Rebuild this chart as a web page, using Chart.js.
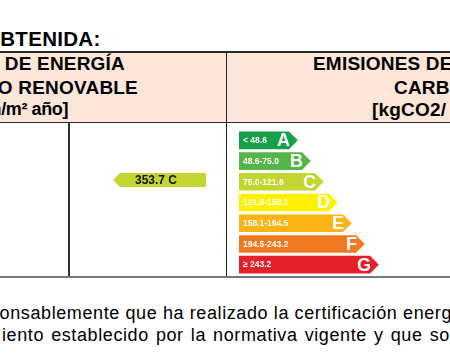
<!DOCTYPE html>
<html>
<head>
<meta charset="utf-8">
<script src="https://cdn.jsdelivr.net/npm/chart.js@4/dist/chart.umd.min.js"></script>
<style>
  html, body { margin:0; padding:0; width:450px; height:364px; overflow:hidden; background:#fff; }
  body { position:relative; font-family:"Liberation Sans", Arial, sans-serif; color:#000; }
  .abs { position:absolute; white-space:nowrap; line-height:1; }
  .h { font-weight:bold; font-size:19px; letter-spacing:0.2px; }
  .txt { font-size:18px; letter-spacing:0.6px; }
</style>
</head>
<body>
<div class="abs" style="left:-16px; top:29px; font-size:20.5px; font-weight:bold; letter-spacing:0.3px;">OBTENIDA:</div>

<div class="abs" style="left:0; top:51px; width:450px; height:71px; background:#fce6da;"></div>
<div class="abs" style="left:0; top:51px; width:450px; height:1.5px; background:#2a2a2a;"></div>
<div class="abs" style="left:0; top:121.5px; width:450px; height:1px; background:#2a2a2a;"></div>
<div class="abs" style="left:226px; top:51px; width:1px; height:226px; background:#222;"></div>
<div class="abs" style="left:68px; top:122px; width:1.5px; height:155px; background:#333;"></div>
<div class="abs" style="left:0; top:276px; width:450px; height:2px; background:#777;"></div>

<div class="abs h" style="right:325px; top:54px;">CONSUMO DE ENERGÍA</div>
<div class="abs h" style="right:312px; top:78px;">PRIMARIA NO RENOVABLE</div>
<div class="abs h" style="right:382px; top:100px; font-size:18px; letter-spacing:-0.4px;">[kWh/m² año]</div>

<div class="abs h" style="left:313px; top:54px;">EMISIONES DE DIÓXIDO DE</div>
<div class="abs h" style="left:394px; top:78px;">CARBONO</div>
<div class="abs h" style="left:372px; top:100px;">[kgCO2/ m² año]</div>

<div class="abs" style="left:239px; top:130px; width:160px; height:145px;"><canvas id="label" width="160" height="145"></canvas></div>
<div class="abs" style="left:112px; top:173px; width:94px; height:14px;"><canvas id="rating" width="94" height="14"></canvas></div>

<div class="abs txt" style="left:-11px; top:304px;">ponsablemente que ha realizado la certificación energética</div>
<div class="abs txt" style="left:2px; top:326px; word-spacing:1.5px;">iento establecido por la normativa vigente y que son</div>

<script>
// ---- data ----
const classes = ['A', 'B', 'C', 'D', 'E', 'F', 'G'];
const ranges = ['< 48.6', '48.6-75.0', '75.0-121.6', '121.6-158.1', '158.1-194.5', '194.5-243.2', '\u2265 243.2'];
const barLengths = [50, 63, 76, 90, 104, 117, 131];
const classColors = ['#17a04a', '#55b548', '#c2d62f', '#fff200', '#fbb415', '#f07a21', '#e4202b'];
const ratingValue = 353.7;
const ratingClass = 'C';
const ratingLength = [86];

const arrowTips = {
  id: 'arrowTips',
  afterDatasetsDraw(chart, args, opts) {
    const ctx = chart.ctx;
    const meta = chart.getDatasetMeta(0);
    meta.data.forEach((bar, i) => {
      const h = bar.height, x = bar.x, y = bar.y, dir = opts.dir || 1;
      ctx.save();
      ctx.fillStyle = chart.data.datasets[0].backgroundColor[i];
      ctx.beginPath();
      ctx.moveTo(x, y - h / 2);
      ctx.lineTo(x + dir * h / 2, y);
      ctx.lineTo(x, y + h / 2);
      ctx.closePath();
      ctx.fill();
      ctx.restore();
      if (opts.draw) opts.draw(ctx, bar, i);
    });
  }
};

new Chart(document.getElementById('label'), {
  type: 'bar',
  data: {
    labels: classes,
    datasets: [{ data: barLengths, backgroundColor: classColors, borderWidth: 0,
      barPercentage: 0.85, categoryPercentage: 1 }]
  },
  options: {
    indexAxis: 'y', responsive: false, animation: false, devicePixelRatio: 1,
    layout: { padding: 0 },
    scales: { x: { display: false, min: 0, max: 160 }, y: { display: false } },
    plugins: {
      legend: { display: false }, tooltip: { enabled: false },
      arrowTips: {
        dir: 1,
        draw(ctx, bar, i) {
          ctx.save();
          ctx.fillStyle = '#fff';
          ctx.textBaseline = 'middle';
          ctx.font = 'bold 18px "Liberation Sans", Arial, sans-serif';
          ctx.textAlign = 'right';
          ctx.fillText(classes[i], bar.x + 1, bar.y + 1);
          ctx.font = 'bold 8.5px "Liberation Sans", Arial, sans-serif';
          ctx.textAlign = 'left';
          ctx.fillText(ranges[i], bar.base + 4, bar.y + 0.5);
          ctx.restore();
        }
      }
    }
  },
  plugins: [arrowTips]
});

new Chart(document.getElementById('rating'), {
  type: 'bar',
  data: {
    labels: [ratingClass],
    datasets: [{ data: ratingLength, backgroundColor: [classColors[classes.indexOf(ratingClass)]], borderWidth: 0,
      barPercentage: 1, categoryPercentage: 1 }]
  },
  options: {
    indexAxis: 'y', responsive: false, animation: false, devicePixelRatio: 1,
    layout: { padding: 0 },
    scales: { x: { display: false, min: 0, max: 94, reverse: true }, y: { display: false } },
    plugins: {
      legend: { display: false }, tooltip: { enabled: false },
      arrowTips: {
        dir: -1,
        draw(ctx, bar) {
          ctx.save();
          ctx.fillStyle = '#111';
          ctx.textBaseline = 'middle';
          ctx.textAlign = 'center';
          ctx.font = 'bold 12px "Liberation Sans", Arial, sans-serif';
          ctx.fillText(ratingValue.toFixed(1) + ' ' + ratingClass, (bar.x + bar.base) / 2 - 7, bar.y + 0.5);
          ctx.restore();
        }
      }
    }
  },
  plugins: [arrowTips]
});
</script>
</body>
</html>
